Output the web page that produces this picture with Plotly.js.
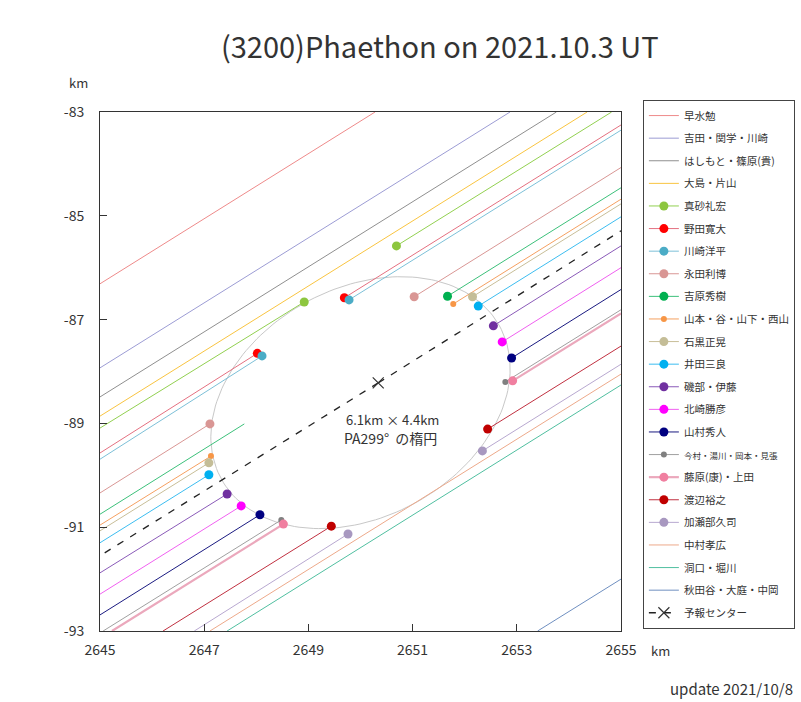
<!DOCTYPE html>
<html>
<head>
<meta charset="utf-8">
<script src="https://cdn.plot.ly/plotly-3.0.1.min.js"></script>
<style>html,body{margin:0;padding:0;background:#fff;}#chart{width:801px;height:702px;}</style>
</head>
<body>
<div id="chart"></div>
<script>
// ---- data (km) ----
const observers = ['早水勉','吉田・関学・川崎','はしもと・篠原(貴)','大島・片山','真砂礼宏','野田寛大','川崎洋平','永田利博','吉原秀樹','山本・谷・山下・西山','石黒正晃','井田三良','磯部・伊藤','北崎勝彦','山村秀人','今村・湯川・岡本・見張','藤原(康)・上田','渡辺裕之','加瀬部久司','中村孝広','洞口・堀川','秋田谷・大庭・中岡'];
const startX = [2645, 2645, 2645, 2645, 2645, 2645, 2645, 2645, 2645, 2645, 2645, 2645, 2645, 2645, 2645, 2645.06, 2645.23, 2646.21, 2646.81, 2647.11, 2647.44, 2653.40];
const startY = [-86.31, -87.93, -88.49, -88.86, -89.09, -89.57, -89.69, -90.34, -90.75, -90.96, -91.07, -91.30, -91.88, -92.29, -92.69, -93, -93, -93, -93, -93, -93, -93];
const disX = [null, null, null, null, 2648.92, 2648.02, 2648.11, 2647.11, 2647.77, 2647.13, 2647.09, 2647.09, 2647.44, 2647.71, 2648.07, 2648.48, 2648.52, 2649.44, 2649.76, null, null, null];
const disY = [null, null, null, null, -86.66, -87.65, -87.70, -89.01, -89.01, -89.63, -89.76, -89.99, -90.36, -90.59, -90.76, -90.86, -90.94, -90.98, -91.13, null, null, null];
const reaX = [null, null, null, null, 2650.69, 2649.69, 2649.78, 2651.03, 2651.67, 2651.78, 2652.15, 2652.26, 2652.55, 2652.72, 2652.90, 2652.78, 2652.92, 2652.44, 2652.34, null, null, null];
const reaY = [null, null, null, null, -85.58, -86.58, -86.62, -86.56, -86.55, -86.70, -86.56, -86.74, -87.12, -87.43, -87.74, -88.20, -88.18, -89.11, -89.53, null, null, null];
const endX = [2650.28, 2652.87, 2653.76, 2654.35, 2654.82, 2655, 2655, 2655, 2655, 2655, 2655, 2655, 2655, 2655, 2655, 2655, 2655, 2655, 2655, 2655, 2655, 2655];
const endY = [-83, -83, -83, -83, -83, -83.25, -83.35, -84.07, -84.46, -84.68, -84.77, -85.02, -85.58, -86.00, -86.42, -86.81, -86.88, -87.51, -87.86, -88.05, -88.26, -92.0];
const predName = '予報センター';
const predX = [2645, 2650.34, 2655];
const predY = [-91.55, -88.22, -85.29];
const ellipseCenter = [2650.0, -88.6];
const ellipseAxesKm = [6.1, 4.4];
const ellipsePA = 299;
const xTicks = [2645, 2647, 2649, 2651, 2653, 2655];
const yTicks = [-93, -91, -89, -87, -85, -83];

// ---- styles ----
const lineColors = ['#EE8A8A','#9C9CD4','#8F8F8F','#F9C440','#92D050','#E47080','#7DC0D8','#D99694','#3CC07A','#F5A060','#C8BE98','#3CBDF0','#8A5AB8','#F060F0','#1A1A80','#A0A0A0','#EBA8BC','#C03040','#B8A8D0','#EDA98A','#50BFA0','#6F8FC0'];
const dotColors = [null,null,null,null,'#8DC63F','#FF0000','#4BACC6','#D99694','#00B050','#F79646','#C4BD97','#00B0F0','#7030A0','#FF00FF','#000080','#808080','#F07FA0','#C00000','#A898C0',null,null,null];
const dotSizes = [0,0,0,0,9,9,9,9,9,6,9,9,9,9,9,6,9,9,9,0,0,0];
const lineWidths = [1,1,1,1,1,1,1,1,1,1,1,1,1,1,1,1,2.2,1,1,1,1,1];
const hiddenDisDot = [8]; // 吉原: no dot drawn at disappearance
const T = 'rgba(0,0,0,0)';
const FONT = '"Noto Sans CJK JP", "Noto Sans", sans-serif';

const traces = [];
// ellipse
(function(){
  const a = ellipseAxesKm[0]/2, b = ellipseAxesKm[1]/2;
  const th = (ellipsePA - 270) * Math.PI/180;
  const ex = [], ey = [];
  for (let i = 0; i <= 180; i++) {
    const t = i/180*2*Math.PI;
    const u = a*Math.cos(t), v = b*Math.sin(t);
    ex.push(ellipseCenter[0] + u*Math.cos(th) - v*Math.sin(th));
    ey.push(ellipseCenter[1] + u*Math.sin(th) + v*Math.cos(th));
  }
  traces.push({x: ex, y: ey, mode: 'lines', line: {color: '#C8C8C8', width: 1}, showlegend: false, hoverinfo: 'skip'});
})();

observers.forEach((name, i) => {
  const label = name.length > 10 ? '<span style="font-size:8.5px">' + name + '</span>' : name;
  if (disX[i] === null) {
    traces.push({
      x: [startX[i], endX[i]], y: [startY[i], endY[i]], mode: 'lines', name: label,
      legendgroup: 'g' + i, line: {color: lineColors[i], width: lineWidths[i]}
    });
  } else {
    const dc = dotColors[i];
    const dc2 = hiddenDisDot.includes(i) ? T : dc;
    traces.push({
      x: [reaX[i], endX[i], null, startX[i], disX[i]],
      y: [reaY[i], endY[i], null, startY[i], disY[i]],
      mode: 'lines+markers', name: label, legendgroup: 'g' + i,
      line: {color: lineColors[i], width: lineWidths[i]},
      marker: {color: [dc, T, T, T, dc2], size: dotSizes[i], line: {width: 0}}
    });
  }
});

traces.push({
  x: [predX[1], predX[0], null, predX[1], predX[2]],
  y: [predY[1], predY[0], null, predY[1], predY[2]],
  mode: 'lines+markers', name: predName, legendgroup: 'gp',
  line: {color: '#222', width: 1.3, dash: '7px,8px'},
  marker: {symbol: 'x-thin-open', size: 11, color: ['#333', T, T, T, T], line: {width: 1.2, color: ['#333', T, T, T, T]}}
});

const layout = {
  width: 801, height: 702,
  margin: {l: 100, r: 180, t: 112, b: 71, autoexpand: false},
  paper_bgcolor: '#fff', plot_bgcolor: '#fff',
  font: {family: FONT, color: '#333', size: 13},
  title: {text: '(3200)Phaethon on 2021.10.3 UT', font: {family: FONT, size: 29, color: '#333'},
          xref: 'container', x: 0.549, xanchor: 'center', yref: 'container', y: 0.932, yanchor: 'middle'},
  xaxis: {range: [2645, 2655], tickvals: xTicks, ticktext: xTicks.map(String), ticks: 'inside', ticklen: 7,
          tickcolor: '#333', showline: true, linecolor: '#333', linewidth: 1, mirror: true,
          showgrid: false, zeroline: false, tickfont: {size: 14, color: '#333'}, ticklabelstandoff: 6},
  yaxis: {range: [-93, -83], tickvals: yTicks, ticktext: yTicks.map(v => '-' + Math.abs(v)), ticks: 'inside', ticklen: 7,
          tickcolor: '#333', showline: true, linecolor: '#333', linewidth: 1, mirror: true,
          showgrid: false, zeroline: false, tickfont: {size: 14, color: '#333'}, ticklabelstandoff: 12},
  showlegend: true,
  legend: {x: 1.042, y: 1.023, xanchor: 'left', yanchor: 'top', bordercolor: '#444', borderwidth: 1,
           bgcolor: '#fff', font: {family: FONT, size: 10.5, color: '#333'}, traceorder: 'grouped',
           tracegroupgap: 3.6, itemwidth: 30, itemclick: false, maxheight: 650},
  annotations: [
    {text: 'km', xref: 'paper', yref: 'paper', x: -0.042, y: 1.056, xanchor: 'center', yanchor: 'middle', showarrow: false, font: {size: 13}},
    {text: 'km', xref: 'paper', yref: 'paper', x: 1.075, y: -0.0385, xanchor: 'center', yanchor: 'middle', showarrow: false, font: {size: 13}},
    {text: 'update 2021/10/8', xref: 'paper', yref: 'paper', x: 1.334, xanchor: 'right', y: -0.11, yanchor: 'middle', showarrow: false, font: {size: 15}},
    {text: '6.1km × 4.4km', xref: 'x', yref: 'y', x: 2650.61, y: -88.93, showarrow: false, font: {size: 13}},
    {text: 'PA299°  の楕円', xref: 'x', yref: 'y', x: 2650.57, y: -89.28, showarrow: false, font: {size: 14}}
  ]
};
Plotly.newPlot('chart', traces, layout, {displayModeBar: false, staticPlot: true});
</script>
</body>
</html>
